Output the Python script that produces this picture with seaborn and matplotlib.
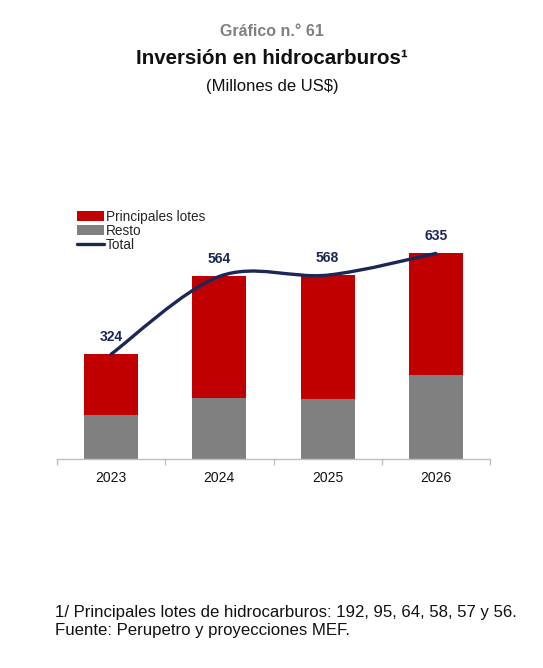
import matplotlib
matplotlib.use("Agg")
import matplotlib.pyplot as plt
from matplotlib.path import Path
from matplotlib.patches import PathPatch
from matplotlib.lines import Line2D
from matplotlib.patches import Patch
from matplotlib.ticker import FixedLocator
import seaborn as sns
import pandas as pd

# ---- data ----
years = ["2023", "2024", "2025", "2026"]
principales = [188, 375, 383, 375]
resto = [136, 189, 185, 260]
total = [324, 564, 568, 635]

RED = "#C00000"
GRAY = "#808080"
NAVY = "#1B2757"

sns.set_theme(style="white")
plt.rcParams["font.family"] = ["Liberation Sans", "DejaVu Sans"]

df = pd.DataFrame({"year": years, "principales": principales,
                   "resto": resto, "total": total})
df["stack"] = df["principales"] + df["resto"]

fig = plt.figure(figsize=(5.43, 6.68), dpi=100)
ax = fig.add_axes([57 / 543, (668 - 459) / 668, 433 / 543, 259 / 668])

sns.barplot(data=df, x="year", y="stack", color=RED, width=0.5,
            saturation=1, ax=ax, edgecolor="none")
sns.barplot(data=df, x="year", y="resto", color=GRAY, width=0.5,
            saturation=1, ax=ax, edgecolor="none")

# smooth total line (Excel-like smoothing through the data points)
xs = list(range(len(total)))
pts = list(zip(xs, total))
verts = [pts[0]]
codes = [Path.MOVETO]
n = len(pts)
for i in range(n - 1):
    p0 = pts[i - 1] if i > 0 else pts[i]
    p1 = pts[i]
    p2 = pts[i + 1]
    p3 = pts[i + 2] if i + 2 < n else pts[i + 1]
    c1 = (p1[0] + (p2[0] - p0[0]) / 6, p1[1] + (p2[1] - p0[1]) / 6)
    c2 = (p2[0] - (p3[0] - p1[0]) / 6, p2[1] - (p3[1] - p1[1]) / 6)
    verts += [c1, c2, p2]
    codes += [Path.CURVE4] * 3
ax.add_patch(PathPatch(Path(verts, codes), facecolor="none",
                       edgecolor=NAVY, lw=2.4, capstyle="round", zorder=5))

for i, v in enumerate(total):
    ax.annotate(f"{v}", (i, v), xytext=(0, 12.5), textcoords="offset points",
                ha="center", va="center", fontsize=10, fontweight="bold",
                color=NAVY, zorder=6)

ax.set_xlim(-0.5, 3.5)
ax.set_ylim(0, 800)
ax.set_xlabel("")
ax.set_ylabel("")
ax.set_yticks([])
for s in ["top", "right", "left"]:
    ax.spines[s].set_visible(False)
ax.spines["bottom"].set_color("#BFBFBF")
ax.spines["bottom"].set_linewidth(1.0)
ax.tick_params(axis="x", which="major", length=0, labelsize=10,
               colors="#111111", pad=9)
ax.xaxis.set_minor_locator(FixedLocator([-0.5, 0.5, 1.5, 2.5, 3.5]))
ax.tick_params(axis="x", which="minor", length=4, width=1.0,
               color="#BFBFBF", direction="out", bottom=True)

handles = [Patch(facecolor=RED, edgecolor="none", label="Principales lotes"),
           Patch(facecolor=GRAY, edgecolor="none", label="Resto"),
           Line2D([0], [0], color=NAVY, lw=2.4, label="Total")]
leg = ax.legend(handles=handles, loc="upper left",
                bbox_to_anchor=(77 / 543, (668 - 210) / 668),
                bbox_transform=fig.transFigure, frameon=False,
                fontsize=9.8, handlelength=2.0, handleheight=0.8,
                handletextpad=0.1, labelspacing=0.0, borderpad=0,
                borderaxespad=0)

fig.text(272 / 543, 1 - 31 / 668, "Gráfico n.° 61", ha="center", va="center",
         fontsize=11.5, fontweight="bold", color="#808080")
fig.text(272 / 543, 1 - 59 / 668, "Inversión en hidrocarburos¹", ha="center",
         va="center", fontsize=14.8, fontweight="bold", color="#111111")
fig.text(272 / 543, 1 - 86 / 668, "(Millones de US$)", ha="center",
         va="center", fontsize=12, color="#111111")
fig.text(55 / 543, 1 - 612 / 668,
         "1/ Principales lotes de hidrocarburos: 192, 95, 64, 58, 57 y 56.",
         ha="left", va="center", fontsize=12.1, color="#111111")
fig.text(55 / 543, 1 - 631 / 668, "Fuente: Perupetro y proyecciones MEF.",
         ha="left", va="center", fontsize=12.1, color="#111111")

fig.savefig("out.png", dpi=100, facecolor="white")
